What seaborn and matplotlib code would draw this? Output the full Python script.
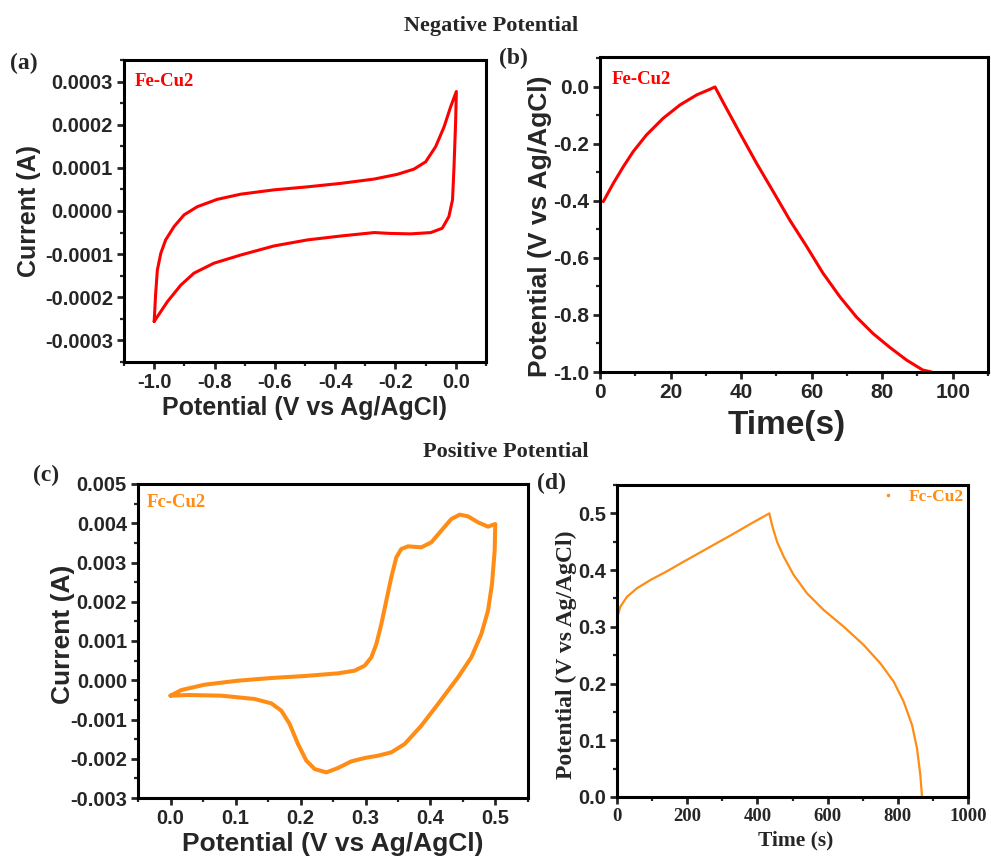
import numpy as np
import pandas as pd
import matplotlib
matplotlib.use("Agg")
import matplotlib.pyplot as plt
from matplotlib.ticker import MultipleLocator, FormatStrFormatter
from matplotlib.lines import Line2D
import seaborn as sns

sns.set_theme(style="white")
plt.rcParams['font.family'] = ['Liberation Sans', 'DejaVu Sans']
plt.rcParams['axes.unicode_minus'] = False

# ---------------- data ----------------
# (a) CV negative potential, Fe-Cu2 (V, A)
cv_neg_x = [-1.0, -0.995, -0.9895, -0.978, -0.962, -0.934, -0.901, -0.857, -0.791, -0.713, -0.603,
            -0.492, -0.382, -0.271, -0.194, -0.139, -0.100, -0.067, -0.039, -0.017, 0.0017,
            -0.0005, -0.006, -0.011, -0.023, -0.045, -0.083, -0.150, -0.216, -0.271, -0.382,
            -0.492, -0.603, -0.713, -0.802, -0.868, -0.912, -0.956, -0.9895, -1.0]
cv_neg_y = [-0.000256, -0.000191, -0.000137, -0.000098, -0.000067, -0.000036, -0.000009, 0.00001,
            0.000027, 0.000039, 0.000049, 0.000056, 0.000064, 0.000074, 0.000085, 0.000097,
            0.000114, 0.000149, 0.000195, 0.000242, 0.000277, 0.000211, 0.000103, 0.000026,
            -0.000013, -0.00004, -0.00005, -0.000053, -0.000052, -0.00005, -0.000058, -0.000067,
            -0.000081, -0.000102, -0.000121, -0.000144, -0.000172, -0.00021, -0.000245, -0.000256]

# (b) GCD negative potential (s, V)
gcd_neg_t = [0.94, 3.78, 6.6, 9.4, 13.2, 17.9, 22.7, 27.4, 31.2, 32.6, 35.0, 39.7, 44.4, 49.1, 53.8,
             58.6, 63.2, 68.0, 72.7, 77.4, 82.0, 86.9, 91.5, 94.0]
gcd_neg_v = [-0.402, -0.338, -0.280, -0.227, -0.168, -0.110, -0.063, -0.028, -0.008, 0.0, -0.056,
             -0.163, -0.268, -0.367, -0.467, -0.560, -0.653, -0.736, -0.807, -0.865, -0.912, -0.958,
             -0.993, -1.0]

# (c) CV positive potential, Fc-Cu2 (V, mA)
cv_pos_x = [0.0, 0.0167, 0.0526, 0.1038, 0.155, 0.2064, 0.2577, 0.2833, 0.2987, 0.309, 0.3167, 0.3244,
            0.332, 0.3397, 0.3474, 0.3551, 0.3654, 0.3859, 0.4013, 0.4166, 0.432, 0.4449, 0.4577,
            0.4731, 0.4885, 0.4997, 0.4987, 0.4946, 0.4885, 0.4782, 0.4628, 0.4423, 0.4115, 0.3859,
            0.3602, 0.3397, 0.3192, 0.2987, 0.2782, 0.2577, 0.2397, 0.2218, 0.209, 0.1961, 0.1833,
            0.1705, 0.1551, 0.1295, 0.0782, 0.0269, 0.0]
cv_pos_y_mA = [-0.393, -0.249, -0.113, -0.011, 0.057, 0.108, 0.176, 0.244, 0.371, 0.584, 0.924, 1.433,
               2.027, 2.622, 3.132, 3.344, 3.412, 3.386, 3.514, 3.811, 4.108, 4.219, 4.176, 4.023,
               3.913, 3.981, 3.301, 2.452, 1.773, 1.178, 0.584, 0.074, -0.606, -1.157, -1.625, -1.837,
               -1.922, -1.981, -2.066, -2.236, -2.347, -2.262, -2.049, -1.625, -1.115, -0.775, -0.589,
               -0.478, -0.393, -0.376, -0.393]

# (d) GCD positive potential (s, V)
gcd_pos_t = [0, 9.5, 28.5, 57, 95, 142.5, 190, 237.4, 284.9, 332.4, 379.9, 434, 441.6, 455.9, 474.9,
             503.3, 541.3, 588.8, 645.8, 702.8, 750.3, 788.3, 816.7, 840.5, 854.7, 864.2, 869]
gcd_pos_v = [0.315, 0.3355, 0.353, 0.368, 0.3825, 0.398, 0.4149, 0.4313, 0.4478, 0.4642, 0.4813, 0.5,
             0.4795, 0.45, 0.4237, 0.3914, 0.359, 0.3297, 0.3003, 0.268, 0.2356, 0.2033, 0.168,
             0.127, 0.0858, 0.0388, 0.0]

RED = '#FF0000'
ORANGE = '#FF8C14'
SANS = ['Liberation Sans', 'DejaVu Sans']
SERIF = ['Liberation Serif', 'DejaVu Serif']

fig = plt.figure(figsize=(9.91, 8.57), dpi=100)
W, H = 991, 857

def add_ax(l, t, r, b):
    return fig.add_axes([l / W, 1 - b / H, (r - l) / W, (b - t) / H])

ax_a = add_ax(124, 60, 486, 362)
ax_b = add_ax(600, 57, 988, 372)
ax_c = add_ax(138, 484, 528, 798)
ax_d = add_ax(617, 485, 968, 797)

def style(ax, xfam, yfam, xsize, ysize):
    for s in ax.spines.values():
        s.set_linewidth(2.2)
        s.set_color('black')
    ax.tick_params(which='major', direction='out', length=5, width=2, bottom=True, left=True,
                   top=False, right=False, pad=3)
    ax.tick_params(which='minor', direction='out', length=3, width=1.6, bottom=True, left=True,
                   top=False, right=False)
    for lab in ax.get_xticklabels():
        lab.set_fontfamily(xfam)
        lab.set_fontweight('bold')
        lab.set_fontsize(xsize)
    for lab in ax.get_yticklabels():
        lab.set_fontfamily(yfam)
        lab.set_fontweight('bold')
        lab.set_fontsize(ysize)

def labels(ax, xl, yl, fam, xs, ys, xcoords, ycoords):
    ax.set_xlabel(xl, fontsize=xs, fontweight='bold', family=fam)
    ax.set_ylabel(yl, fontsize=ys, fontweight='bold', family=fam)
    ax.xaxis.set_label_coords(*xcoords)
    ax.yaxis.set_label_coords(*ycoords)

# (a)
sns.lineplot(x=cv_neg_x, y=cv_neg_y, sort=False, estimator=None, ax=ax_a, color=RED, linewidth=2.2)
ax_a.set_xlim(-1.1, 0.1)
ax_a.set_ylim(-0.00035, 0.00035)
ax_a.xaxis.set_major_locator(MultipleLocator(0.2))
ax_a.xaxis.set_minor_locator(MultipleLocator(0.1))
ax_a.yaxis.set_major_locator(MultipleLocator(0.0001))
ax_a.yaxis.set_minor_locator(MultipleLocator(0.00005))
ax_a.xaxis.set_major_formatter(FormatStrFormatter('%.1f'))
ax_a.yaxis.set_major_formatter(FormatStrFormatter('%.4f'))
labels(ax_a, 'Potential (V vs Ag/AgCl)', 'Current (A)', SANS, 18, 18, (0.5, -0.112), (-0.23, 0.5))
style(ax_a, SANS, SANS, 14.5, 14.5)
ax_a.text(0.03, 0.93, 'Fe-Cu2', transform=ax_a.transAxes, color=RED, fontsize=13.5,
          fontweight='bold', family=SERIF, va='center')

# (b)
sns.lineplot(x=gcd_neg_t, y=gcd_neg_v, sort=False, estimator=None, ax=ax_b, color=RED, linewidth=2.2)
ax_b.set_xlim(0, 110)
ax_b.set_ylim(-1.0, 0.105)
ax_b.xaxis.set_major_locator(MultipleLocator(20))
ax_b.xaxis.set_minor_locator(MultipleLocator(10))
ax_b.yaxis.set_major_locator(MultipleLocator(0.2))
ax_b.yaxis.set_minor_locator(MultipleLocator(0.1))
ax_b.xaxis.set_major_formatter(FormatStrFormatter('%d'))
ax_b.yaxis.set_major_formatter(FormatStrFormatter('%.1f'))
ax_b.set_xlabel('Time(s)', fontsize=24, fontweight='bold', family=SANS)
ax_b.set_ylabel('Potential (V vs Ag/AgCl)', fontsize=19, fontweight='bold', family=SANS)
ax_b.xaxis.set_label_coords(0.482, -0.122)
ax_b.yaxis.set_label_coords(-0.125, 0.463)
style(ax_b, SANS, SANS, 15, 15)
ax_b.text(0.031, 0.927, 'Fe-Cu2', transform=ax_b.transAxes, color=RED, fontsize=13.5,
          fontweight='bold', family=SERIF, va='center')

# (c)
cv_pos_y = [v / 1000.0 for v in cv_pos_y_mA]
sns.lineplot(x=cv_pos_x, y=cv_pos_y, sort=False, estimator=None, ax=ax_c, color=ORANGE, linewidth=2.9)
ax_c.set_xlim(-0.05, 0.55)
ax_c.set_ylim(-0.003, 0.005)
ax_c.xaxis.set_major_locator(MultipleLocator(0.1))
ax_c.xaxis.set_minor_locator(MultipleLocator(0.05))
ax_c.yaxis.set_major_locator(MultipleLocator(0.001))
ax_c.yaxis.set_minor_locator(MultipleLocator(0.0005))
ax_c.xaxis.set_major_formatter(FormatStrFormatter('%.1f'))
ax_c.yaxis.set_major_formatter(FormatStrFormatter('%.3f'))
labels(ax_c, 'Potential (V vs Ag/AgCl)', 'Current (A)', SANS, 19, 19, (0.499, -0.108), (-0.162, 0.52))
style(ax_c, SANS, SANS, 14.5, 14.5)
ax_c.text(0.023, 0.94, 'Fc-Cu2', transform=ax_c.transAxes, color=ORANGE, fontsize=13.5,
          fontweight='bold', family=SERIF, va='center')

# (d)
sns.lineplot(x=gcd_pos_t, y=gcd_pos_v, sort=False, estimator=None, ax=ax_d, color=ORANGE, linewidth=1.6)
ax_d.set_xlim(0, 1000)
ax_d.set_ylim(0, 0.55)
ax_d.xaxis.set_major_locator(MultipleLocator(200))
ax_d.xaxis.set_minor_locator(MultipleLocator(100))
ax_d.yaxis.set_major_locator(MultipleLocator(0.1))
ax_d.yaxis.set_minor_locator(MultipleLocator(0.05))
ax_d.xaxis.set_major_formatter(FormatStrFormatter('%d'))
ax_d.yaxis.set_major_formatter(FormatStrFormatter('%.1f'))
ax_d.set_xlabel('Time (s)', fontsize=15.5, fontweight='bold', family=SERIF)
ax_d.set_ylabel('Potential (V vs Ag/AgCl)', fontsize=17, fontweight='bold', family=SERIF)
ax_d.xaxis.set_label_coords(0.51, -0.108)
ax_d.yaxis.set_label_coords(-0.115, 0.455)
style(ax_d, SERIF, SANS, 13.5, 14.5)
handle = Line2D([], [], marker='.', linestyle='', color=ORANGE, markersize=3)
leg = ax_d.legend([handle], ['Fc-Cu2'], loc='upper right', frameon=False, handlelength=1,
                  handletextpad=0.7, borderaxespad=0.05, borderpad=0.2,
                  prop={'family': SERIF, 'weight': 'bold', 'size': 12.5})
for t in leg.get_texts():
    t.set_color(ORANGE)

# titles and panel labels
fig.text(491 / W, 1 - 26 / H, 'Negative Potential', ha='center', va='center', fontsize=16,
         fontweight='bold', family=SERIF)
fig.text(506 / W, 1 - 452 / H, 'Positive Potential', ha='center', va='center', fontsize=16,
         fontweight='bold', family=SERIF)
for lab, x, y in [('(a)', 24, 63), ('(b)', 513, 58), ('(c)', 46, 475), ('(d)', 552, 483)]:
    fig.text(x / W, 1 - y / H, lab, ha='center', va='center', fontsize=17, fontweight='bold',
             family=SERIF)

fig.savefig('out.png', dpi=100, facecolor='white')
